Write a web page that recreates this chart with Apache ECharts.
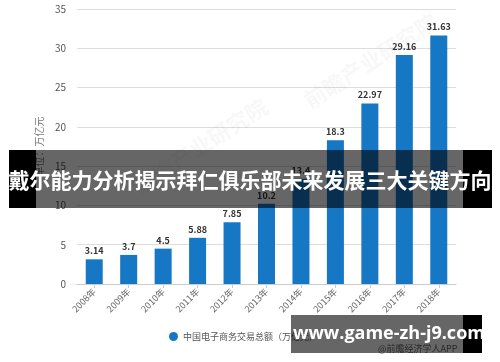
<!DOCTYPE html>
<html><head><meta charset="utf-8">
<script src="https://cdn.jsdelivr.net/npm/echarts@6/dist/echarts.min.js"></script>
<style>html,body{margin:0;padding:0;background:#fff}#c{width:500px;height:362px}</style>
</head><body><div id="c"></div>
<script>
const categories = ['2008年','2009年','2010年','2011年','2012年','2013年','2014年','2015年','2016年','2017年','2018年'];
const values = [3.14, 3.7, 4.5, 5.88, 7.85, 10.2, 13.4, 18.3, 22.97, 29.16, 31.63];
const seriesName = '中国电子商务交易总额（万亿元）';
const yAxisName = '单位：万亿元';
const bannerText = '戴尔能力分析揭示拜仁俱乐部未来发展三大关键方向';
const siteText = 'www.game-zh-j9.com';
const sourceText = '@前瞻经济学人APP';
const watermark = '前瞻产业研究院';

const chart = echarts.init(document.getElementById('c'));
const F = '"Noto Sans CJK SC", "Noto Sans", sans-serif';
chart.setOption({
  animation: false,
  textStyle: {fontFamily: F},
  grid: {left: 77, right: 44, top: 9, bottom: 78},
  legend: {
    data: [seriesName], left: 164, top: 327, icon: 'circle', itemWidth: 9, itemHeight: 9, itemGap: 5,
    textStyle: {fontSize: 9, color: '#555'}
  },
  xAxis: {
    type: 'category', data: categories,
    axisLine: {lineStyle: {color: '#ccc'}},
    axisTick: {show: true, alignWithLabel: true, length: 4, lineStyle: {color: '#ccc'}},
    axisLabel: {rotate: 45, fontSize: 9, color: '#666', margin: 6}
  },
  yAxis: {
    type: 'value', min: 0, max: 35, interval: 5,
    name: yAxisName, nameLocation: 'middle', nameRotate: 90, nameGap: 26,
    nameTextStyle: {fontSize: 10, color: '#777'},
    axisLine: {show: false}, axisTick: {show: false},
    axisLabel: {fontSize: 10, color: '#555', margin: 11},
    splitLine: {lineStyle: {color: '#ddd'}}
  },
  series: [{
    name: seriesName, type: 'bar', data: values, barWidth: 17,
    itemStyle: {color: '#1677c5'},
    label: {show: true, position: 'top', distance: 4, fontSize: 9, fontWeight: 'bold', color: '#333'}
  }],
  graphic: [
    {type: 'rect', shape: {x: 70, y: 284, width: 7, height: 0.5}, style: {fill: '#ddd'}, z: 1},
    {type: 'text', left: 130, top: 95, rotation: Math.PI/5.5, style: {text: watermark, font: 'bold 22px ' + F, fill: 'rgba(0,0,0,0.03)'}, z: 1},
    {type: 'text', left: 300, top: 10, rotation: Math.PI/5.5, style: {text: watermark, font: 'bold 22px ' + F, fill: 'rgba(0,0,0,0.03)'}, z: 1},
    {type: 'text', left: 378, top: 344, style: {text: sourceText, font: '9px ' + F, fill: '#666'}, z: 5},
    {type: 'rect', shape: {x: 9, y: 150, width: 27, height: 58}, style: {fill: '#000'}, z: 10},
    {type: 'rect', shape: {x: 463, y: 150, width: 29, height: 58}, style: {fill: '#000'}, z: 10},
    {type: 'rect', shape: {x: 36, y: 150, width: 427, height: 58}, style: {fill: 'rgba(0,0,0,0.6)'}, z: 10},
    {type: 'text', x: 250, y: 180, style: {text: bannerText, font: 'bold 21px ' + F, fill: '#fff', align: 'center', verticalAlign: 'middle'}, z: 11},
    {type: 'rect', shape: {x: 291, y: 315, width: 172, height: 38}, style: {fill: 'rgba(0,0,0,0.6)'}, z: 10},
    {type: 'rect', shape: {x: 463, y: 315, width: 19, height: 38}, style: {fill: '#000'}, z: 10},
    {type: 'text', x: 389, y: 334, style: {text: siteText, font: 'bold 18px "Open Sans", sans-serif', fill: '#fff', align: 'center', verticalAlign: 'middle'}, z: 11}
  ]
});
</script></body></html>
